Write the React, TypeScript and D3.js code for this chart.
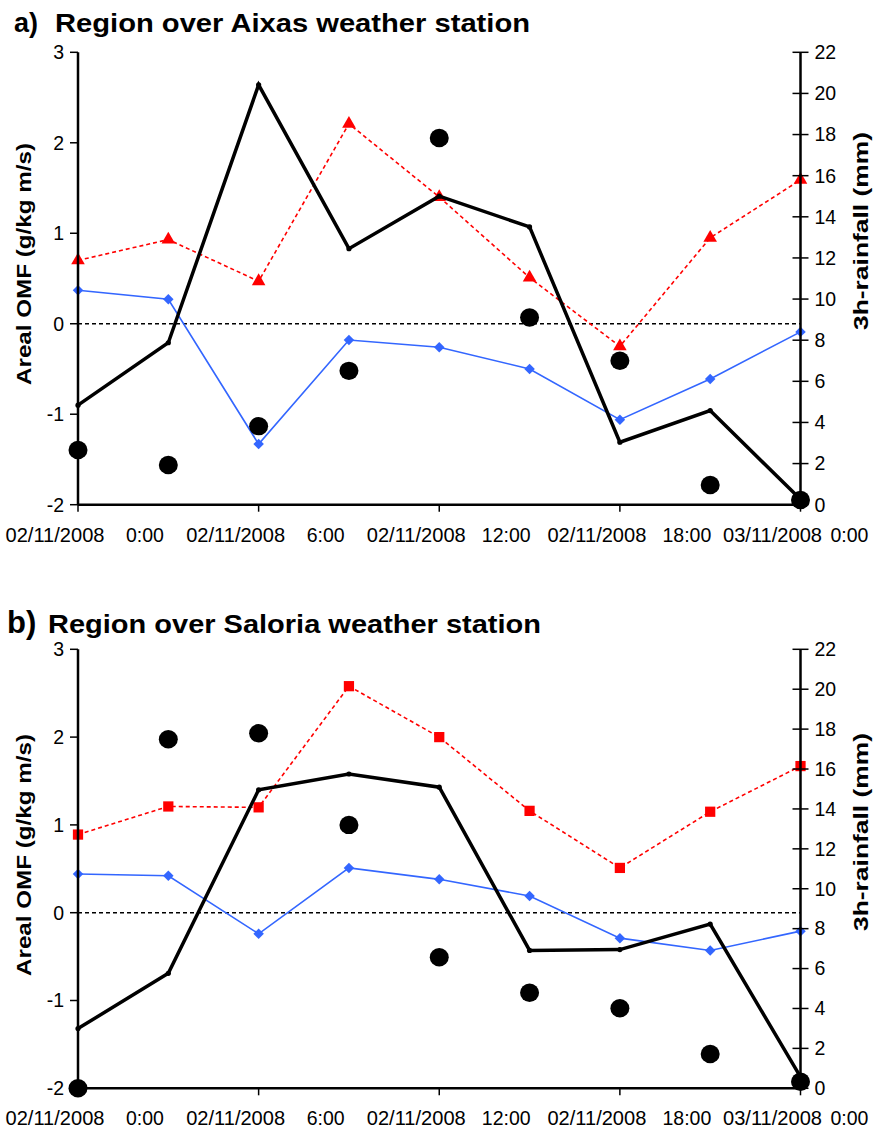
import React from "react";
import * as d3 from "d3";

const hours = [0, 3, 6, 9, 12, 15, 18, 21, 24];
const tickHours = [0, 6, 12, 18, 24];
const tickDates = ["02/11/2008", "02/11/2008", "02/11/2008", "02/11/2008", "03/11/2008"];
const tickTimes = ["0:00", "6:00", "12:00", "18:00", "0:00"];
const leftTicks = [-2, -1, 0, 1, 2, 3];
const rightTicks = [0, 2, 4, 6, 8, 10, 12, 14, 16, 18, 20, 22];

const aBlack = [-0.9, -0.21, 2.64, 0.83, 1.41, 1.07, -1.31, -0.96, -1.94];
const aRed = [0.7, 0.93, 0.47, 2.21, 1.4, 0.51, -0.25, 0.95, 1.59];
const aBlue = [0.37, 0.27, -1.33, -0.18, -0.26, -0.5, -1.06, -0.61, -0.09];
const aRain = [2.66, 1.93, 3.82, 6.51, 17.83, 9.1, 7.0, 0.96, 0.23];

const bBlack = [-1.32, -0.69, 1.4, 1.58, 1.43, -0.43, -0.42, -0.13, -1.87];
const bRed = [0.89, 1.21, 1.2, 2.58, 2.0, 1.16, 0.51, 1.15, 1.67];
const bBlue = [0.44, 0.42, -0.24, 0.51, 0.38, 0.19, -0.29, -0.43, -0.21];
const bRain = [0, 17.49, 17.79, 13.2, 6.57, 4.79, 4.01, 1.72, 0.33];

const FONT = "'Liberation Sans', Arial, Helvetica, sans-serif";
const W = 874;
const H = 1130;
const X0 = 78;
const X1 = 800.5;
const BLUE = "#3366ff";
const RED = "#ff0000";

type PanelProps = {
  letter: string;
  letterSize: number;
  letterX: number;
  title: string;
  titleX: number;
  titleLen: number;
  titleY: number;
  top: number;
  bottom: number;
  black: number[];
  red: number[];
  blue: number[];
  rain: number[];
  redMarker: "triangle" | "square";
  leftTitleY: number;
  rightTitleY: number;
};

function Panel(p: PanelProps) {
  const x = d3.scaleLinear().domain([0, 24]).range([X0, X1]);
  const yL = d3.scaleLinear().domain([-2, 3]).range([p.bottom, p.top]);
  const yR = d3.scaleLinear().domain([0, 22]).range([p.bottom, p.top]);
  const line = (vals: number[]) =>
    d3
      .line<number>()
      .x((_, i) => x(hours[i]))
      .y((v) => yL(v))(vals) || "";
  const diamond = d3.symbol().type(d3.symbolDiamond2).size(70)() || "";
  const tri = d3.symbol().type(d3.symbolTriangle).size(80)() || "";
  const sq = d3.symbol().type(d3.symbolSquare).size(105)() || "";

  return (
    <g>
      <text x={p.letterX} y={p.titleY} fontSize={p.letterSize} fontWeight="bold" fontFamily={FONT}>
        {p.letter}
      </text>
      <text
        x={p.titleX}
        y={p.titleY}
        fontSize={25}
        fontWeight="bold"
        fontFamily={FONT}
        textLength={p.titleLen}
        lengthAdjust="spacingAndGlyphs"
      >
        {p.title}
      </text>

      {/* zero line */}
      <line x1={X0} x2={X1} y1={yL(0)} y2={yL(0)} stroke="#000" strokeWidth={1.5} strokeDasharray="4,3" />

      {/* series */}
      <path d={line(p.blue)} fill="none" stroke={BLUE} strokeWidth={1.6} />
      {p.blue.map((v, i) => (
        <path key={"bl" + i} d={diamond} transform={`translate(${x(hours[i])},${yL(v)})`} fill={BLUE} />
      ))}
      <path d={line(p.red)} fill="none" stroke={RED} strokeWidth={1.6} strokeDasharray="4,3" />
      {p.red.map((v, i) => (
        <path
          key={"r" + i}
          d={p.redMarker === "triangle" ? tri : sq}
          transform={`translate(${x(hours[i])},${yL(v)})`}
          fill={RED}
        />
      ))}
      <path d={line(p.black)} fill="none" stroke="#000" strokeWidth={3.5} strokeLinejoin="miter" />
      {p.black.map((v, i) => (
        <circle key={"k" + i} cx={x(hours[i])} cy={yL(v)} r={2.6} fill="#000" />
      ))}
      {p.rain.map((v, i) => (
        <ellipse key={"c" + i} cx={x(hours[i])} cy={yR(v)} rx={9.5} ry={9.2} fill="#000" />
      ))}

      {/* left axis */}
      <line x1={X0} x2={X0} y1={yL(3)} y2={p.bottom} stroke="#000" strokeWidth={2.5} />
      {leftTicks.map((t) => (
        <g key={"lt" + t}>
          <line x1={X0 - 8} x2={X0} y1={yL(t)} y2={yL(t)} stroke="#000" strokeWidth={1.5} />
          <text x={64} y={yL(t)} dy="0.35em" textAnchor="end" fontSize={19.5} fontFamily={FONT}>
            {t}
          </text>
        </g>
      ))}
      {/* right axis */}
      <line x1={X1} x2={X1} y1={yR(22)} y2={p.bottom} stroke="#000" strokeWidth={2.5} />
      {rightTicks.map((t) => (
        <g key={"rt" + t}>
          <line x1={X1 - 8} x2={X1 + 8} y1={yR(t)} y2={yR(t)} stroke="#000" strokeWidth={1.5} />
          <text x={X1 + 14} y={yR(t)} dy="0.35em" fontSize={19.5} fontFamily={FONT}>
            {t}
          </text>
        </g>
      ))}
      {/* bottom axis */}
      <line x1={X0} x2={X1} y1={p.bottom} y2={p.bottom} stroke="#000" strokeWidth={2.5} />
      {tickHours.map((h, i) => {
        const last = i === tickHours.length - 1;
        const dxDate = last ? -28 : -23;
        const dxTime = last ? 49 : 67;
        return (
          <g key={"xt" + h}>
            <line x1={x(h)} x2={x(h)} y1={p.bottom} y2={p.bottom + 7} stroke="#000" strokeWidth={1.5} />
            <text
              x={x(h) + dxDate}
              y={p.bottom + 37}
              textAnchor="middle"
              fontSize={19.5}
              fontFamily={FONT}
              textLength={99}
              lengthAdjust="spacingAndGlyphs"
            >
              {tickDates[i]}
            </text>
            <text x={x(h) + dxTime} y={p.bottom + 37} textAnchor="middle" fontSize={19.5} fontFamily={FONT}>
              {tickTimes[i]}
            </text>
          </g>
        );
      })}

      {/* axis titles */}
      <text
        transform={`translate(24,${p.leftTitleY}) rotate(-90)`}
        textAnchor="middle"
        dominantBaseline="central"
        fontSize={20}
        fontWeight="bold"
        fontFamily={FONT}
        textLength={242}
        lengthAdjust="spacingAndGlyphs"
      >
        Areal OMF (g/kg m/s)
      </text>
      <text
        transform={`translate(861,${p.rightTitleY}) rotate(-90)`}
        textAnchor="middle"
        dominantBaseline="central"
        fontSize={20}
        fontWeight="bold"
        fontFamily={FONT}
        textLength={198}
        lengthAdjust="spacingAndGlyphs"
      >
        3h-rainfall (mm)
      </text>
    </g>
  );
}

export default function App() {
  return (
    <svg
      width={W}
      height={H}
      viewBox={`0 0 ${W} ${H}`}
      style={{ position: "absolute", left: 0, top: 0, background: "#fff" }}
    >
      <rect width={W} height={H} fill="#fff" />
      <Panel
        letter="a)"
        letterSize={27}
        letterX={14}
        title="Region over Aixas weather station"
        titleX={55}
        titleLen={475}
        titleY={32}
        top={52.3}
        bottom={504.7}
        black={aBlack}
        red={aRed}
        blue={aBlue}
        rain={aRain}
        redMarker="triangle"
        leftTitleY={264}
        rightTitleY={231}
      />
      <Panel
        letter="b)"
        letterSize={31}
        letterX={7}
        title="Region over Saloria weather station"
        titleX={48}
        titleLen={493}
        titleY={633}
        top={649.3}
        bottom={1088.3}
        black={bBlack}
        red={bRed}
        blue={bBlue}
        rain={bRain}
        redMarker="square"
        leftTitleY={855}
        rightTitleY={832}
      />
    </svg>
  );
}
